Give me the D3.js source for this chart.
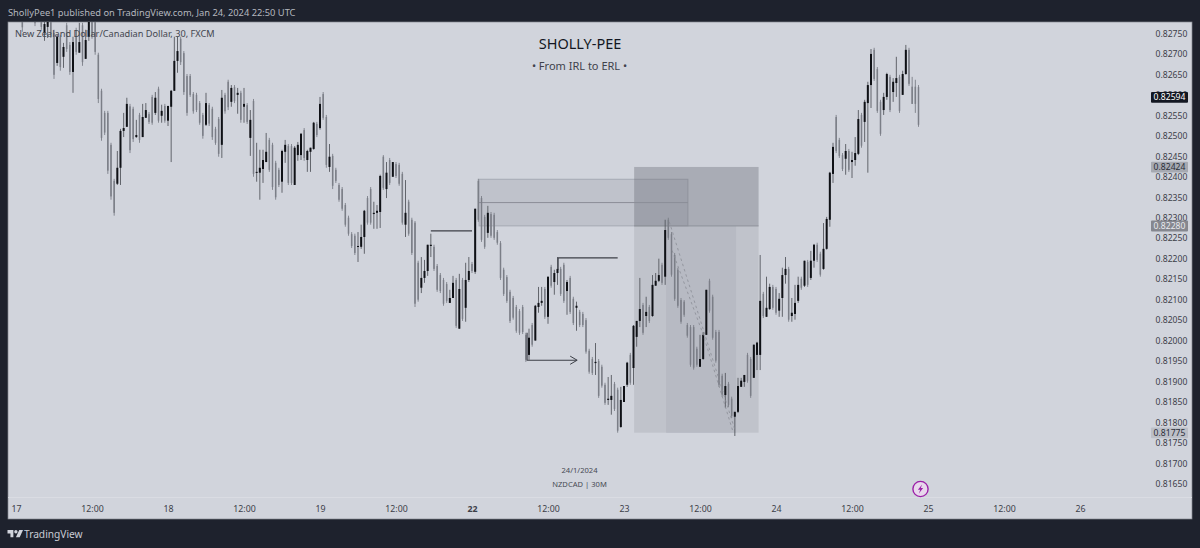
<!DOCTYPE html>
<html><head><meta charset="utf-8">
<script src="https://cdnjs.cloudflare.com/ajax/libs/d3/7.8.5/d3.min.js"></script>
<style>
html,body{margin:0;padding:0;background:#1e222d;overflow:hidden}
svg{display:block}
text{font-family:"Noto Sans",sans-serif}
</style></head><body><svg id="c" width="1200" height="548"></svg>
<script>
// Prices are in points (1 point = 0.00001). Bars run on the 30-minute grid, first bar index is firstBar.
const firstBar = 2;
const highs = [
82820,82820,82820,82820,82820,82820,82808,82803,82798,82808,
82759,82747,82747,82727,82776,82729,82742,82764,82776,82776,
82759,82795,82795,82795,82703,82615,82561,82561,82483,82395,
82463,82517,82556,82593,82578,82571,82539,82556,82578,82580,
82558,82600,82607,82620,82576,82578,82573,82612,82742,82742,
82742,82707,82651,82651,82607,82605,82585,82556,82605,82580,
82571,82522,82546,82612,82605,82637,82624,82624,82617,82610,
82617,82580,82563,82590,82483,82466,82466,82507,82495,82483,
82439,82422,82466,82490,82480,82480,82475,82485,82507,82519,
82466,82471,82534,82534,82595,82607,82551,82480,82456,82422,
82385,82375,82336,82305,82265,82261,82265,82283,82319,82353,
82375,82339,82331,82405,82453,82436,82446,82436,82436,82434,
82412,82392,82344,82300,82292,82195,82204,82197,82234,82261,
82234,82187,82165,82153,82143,82124,82158,82153,82163,82153,
82190,82204,82192,82322,82395,82353,82307,82329,82314,82312,
82270,82243,82178,82160,82124,82109,82087,82077,82087,82019,
82029,82043,82087,82131,82131,82131,82156,82185,82173,82204,
82180,82190,82148,82158,82107,82095,82075,82070,82055,81980,
81960,81994,81955,81941,81897,81911,81916,81899,81885,81887,
81889,81948,81970,82038,82048,82153,82092,82107,82087,82160,
82165,82200,82190,82295,82300,82265,82214,82178,82104,82099,
82043,82038,82038,81985,82014,82021,82124,82151,82112,82026,
82026,81919,81921,81899,81863,81826,81909,81909,81916,81970,
81960,81990,81997,82209,82119,82156,82139,82136,82131,82116,
82178,82204,82180,82104,82136,82156,82156,82195,82197,82219,
82236,82239,82217,82287,82302,82412,82483,82551,82495,82458,
82480,82468,82461,82497,82563,82556,82588,82632,82712,82715,
82668,82588,82605,82654,82649,82641,82693,82649,82659,82722,
82715,82644,82637,82624];
const lows = [
82754,82788,82788,82783,82768,82783,82759,82732,82739,82739,
82639,82671,82659,82666,82705,82649,82605,82698,82703,82671,
82688,82732,82737,82698,82580,82488,82502,82407,82344,82305,
82380,82380,82497,82522,82458,82485,82495,82483,82497,82544,
82529,82527,82551,82532,82532,82532,82524,82436,82610,82654,
82673,82600,82549,82595,82554,82558,82527,82493,82524,82524,
82490,82478,82449,82446,82554,82563,82571,82580,82554,82532,
82532,82529,82451,82400,82388,82344,82385,82436,82412,82368,
82344,82375,82361,82434,82380,82380,82380,82439,82441,82439,
82412,82412,82466,82497,82515,82539,82422,82412,82370,82385,
82339,82317,82278,82256,82226,82209,82192,82224,82212,82283,
82283,82273,82273,82275,82368,82348,82380,82400,82397,82378,
82283,82253,82256,82209,82082,82095,82116,82141,82158,82204,
82170,82119,82116,82085,82092,82092,82104,82031,82029,82048,
82046,82143,82165,82163,82290,82241,82224,82251,82251,82246,
82234,82148,82109,82092,82043,82051,82019,82014,82016,81948,
81953,81985,82000,82068,82085,82053,82041,82129,82112,82136,
82109,82092,82063,82065,82038,82024,82033,82033,81968,81919,
81916,81916,81860,81885,81843,81843,81819,81828,81775,81787,
81850,81887,81892,81892,81985,82033,82014,82033,82043,82058,
82134,82143,82136,82136,82246,82156,82097,82080,82041,82058,
82007,81936,81929,81936,81936,81953,82014,82068,82002,81946,
81887,81863,81836,81838,81811,81767,81823,81887,81887,81897,
81860,81909,81928,81928,82055,82058,82075,82075,82063,82058,
82058,82139,82046,82046,82051,82092,82124,82131,82131,82148,
82178,82192,82156,82173,82222,82278,82385,82458,82446,82414,
82405,82412,82397,82427,82453,82471,82485,82410,82568,82634,
82556,82500,82551,82588,82558,82583,82595,82556,82600,82649,
82622,82578,82556,82522];
const opens = [
82810,82814,82815,82812,82810,82812,82800,82751,82766,82795,
82751,82678,82742,82693,82770,82722,82656,82758,82703,82770,
82688,82742,82785,82785,82698,82610,82556,82556,82478,82390,
82383,82422,82512,82522,82572,82566,82497,82551,82497,82544,
82553,82595,82556,82615,82549,82573,82537,82571,82610,82683,
82737,82702,82646,82646,82602,82600,82580,82551,82527,82575,
82566,82517,82541,82478,82600,82632,82583,82619,82600,82605,
82571,82575,82495,82585,82410,82410,82419,82436,82490,82478,
82434,82417,82388,82461,82475,82475,82380,82453,82453,82514,
82441,82461,82468,82529,82519,82602,82546,82424,82451,82417,
82380,82370,82331,82300,82260,82256,82229,82229,82253,82348,
82370,82309,82312,82314,82449,82370,82441,82400,82431,82429,
82407,82283,82339,82295,82288,82190,82129,82153,82170,82231,
82229,82182,82160,82148,82138,82092,82104,82148,82029,82148,
82080,82148,82187,82168,82390,82348,82302,82263,82309,82307,
82265,82238,82173,82155,82119,82104,82082,82072,82082,82014,
81965,82038,82000,82082,82092,82126,82058,82180,82143,82165,
82175,82185,82121,82153,82102,82080,82070,82065,82050,81975,
81955,81945,81950,81936,81892,81855,81855,81894,81880,81789,
81850,81892,81965,81933,82009,82048,82087,82060,82082,82060,
82134,82146,82185,82156,82295,82260,82209,82173,82099,82095,
82038,82033,82033,81980,81936,81955,82014,82146,82107,82021,
82021,81914,81867,81894,81858,81814,81826,81887,81899,81965,
81955,81909,81965,81965,82114,82058,82077,82131,82126,82073,
82104,82160,82175,82060,82065,82097,82151,82134,82192,82153,
82195,82234,82212,82175,82224,82295,82407,82546,82490,82453,
82444,82463,82436,82441,82456,82551,82534,82580,82624,82710,
82663,82583,82563,82595,82644,82607,82629,82644,82600,82651,
82710,82620,82620,82619];
const closes = [
82765,82795,82793,82790,82775,82790,82766,82773,82778,82749,
82649,82742,82668,82717,82712,82656,82729,82705,82729,82680,
82734,82788,82745,82705,82590,82495,82508,82415,82352,82312,
82422,82512,82519,82578,82465,82492,82502,82490,82546,82563,
82534,82532,82593,82537,82561,82537,82573,82610,82683,82707,
82680,82607,82556,82600,82560,82563,82532,82500,82580,82530,
82497,82483,82456,82593,82560,82570,82617,82585,82605,82539,
82578,82534,82539,82407,82412,82422,82441,82461,82417,82375,
82350,82380,82463,82478,82385,82385,82471,82478,82505,82446,
82463,82471,82532,82502,82578,82544,82429,82449,82378,82390,
82344,82322,82283,82261,82231,82214,82231,82253,82317,82288,
82288,82312,82317,82402,82373,82410,82385,82436,82402,82383,
82288,82312,82261,82214,82090,82100,82153,82170,82234,82234,
82175,82124,82121,82090,82097,82104,82141,82036,82126,82053,
82148,82170,82170,82322,82295,82246,82229,82312,82256,82251,
82239,82153,82114,82097,82048,82056,82024,82019,82021,81953,
82007,81990,82085,82092,82097,82058,82156,82134,82165,82175,
82114,82097,82143,82070,82043,82085,82038,82038,81973,81924,
81921,81948,81865,81890,81848,81858,81865,81833,81780,81855,
81889,81946,81897,82036,82048,82077,82019,82070,82048,82136,
82146,82160,82141,82270,82251,82161,82102,82085,82046,82063,
82012,81941,81934,81941,81955,82014,82124,82073,82007,81951,
81892,81868,81889,81843,81816,81826,81889,81902,81916,81902,
81865,81990,81995,82097,82060,82080,82131,82080,82068,82102,
82160,82175,82051,82068,82092,82136,82129,82195,82136,82195,
82234,82197,82161,82224,82297,82410,82473,82463,82451,82419,
82463,82417,82441,82458,82541,82476,82583,82624,82700,82639,
82561,82505,82595,82651,82563,82632,82641,82561,82651,82710,
82627,82578,82578,82527];

const priceTicks = [81650,81700,81750,81800,81850,81900,81950,82000,82050,82100,82150,82200,82250,82300,82350,82400,82450,82500,82550,82600,82650,82700,82750];
const timeTickBars = [0,24,48,72,96,120,144,168,192,216,240,264,288,312,336];
const timeTickLabels = ["17","12:00","18","12:00","19","12:00","22","12:00","23","12:00","24","12:00","25","12:00","26"];
const boldTimeLabels = ["22"];
// price tags on the axis: value, fill, text colour
const tagValues = [82594,82424,82280,81775];
const tagFills = ["#131722","#a6a9b1","#85878f","#bcbfc7"];
const tagInks = ["#ffffff","#2a2e39","#e8e9ee","#2a2e39"];
// drawings, given as [barFrom, barTo, priceHigh, priceLow]
const zoneStop = [195.2,234.5,82424,82280];
const zoneRisk = [195.2,234.5,82280,81775];
const zoneRiskInner = [205.3,227.4,82280,81775];
const orderBlock = [146.2,212.2,82394,82280];
const orderBlockMid = 82337;
// polylines, as [bar, price] pairs
const ruleA = [[131,82268],[144,82268]];
const ruleB = [[171.2,82173],[171.2,82202],[190,82202]];
const ruleC = [[161.4,82019],[161.4,81952],[177.2,81952]];
const arrowHead = [[175,81962],[177.2,81952],[175,81942]];
const dashA = [[206.3,82290],[227.2,81778]];
const dashB = [[207.2,82220],[217,82015],[226.4,81778]];

const svg = d3.select("#c");
const frameL=8, frameR=1192, frameT=22, frameB=519, axisY=497.5;
const barStep = 152/48;
const x = d3.scaleLinear().domain([0,336]).range([16,16+336*barStep]);
const y = d3.scaleLinear().domain([81618,82778]).range([497,22]);

svg.append("rect").attr("x",frameL).attr("y",frameT).attr("width",frameR-frameL).attr("height",frameB-frameT)
  .attr("fill","#d1d4dc").attr("stroke","#83868f").attr("stroke-width",0.7);
svg.append("line").attr("x1",frameL).attr("x2",frameR).attr("y1",axisY).attr("y2",axisY).attr("stroke","#dadce3").attr("stroke-width",1);

const defs = svg.append("defs");
defs.append("clipPath").attr("id","plot").append("rect").attr("x",frameL).attr("y",frameT).attr("width",frameR-frameL).attr("height",axisY-frameT);
const plot = svg.append("g").attr("clip-path","url(#plot)");

// bands
function band(z,fill,stroke){
  plot.append("rect").attr("x",x(z[0])).attr("width",x(z[1])-x(z[0]))
    .attr("y",y(z[2])).attr("height",y(z[3])-y(z[2])).attr("fill",fill).attr("stroke",stroke||"none").attr("stroke-width",stroke?1:0);
}
band(zoneRisk,"#c0c3cb");
band(zoneRiskInner,"#b7bac3");
band(orderBlock,"rgba(120,123,134,0.2)","rgba(120,123,134,0.4)");
band(zoneStop,"rgba(110,113,122,0.4)");
plot.append("line").attr("x1",x(zoneStop[0])).attr("x2",x(zoneStop[1])).attr("y1",y(zoneStop[3])).attr("y2",y(zoneStop[3])).attr("stroke","#8f929b").attr("stroke-width",1);
plot.append("line").attr("x1",x(orderBlock[0])).attr("x2",x(orderBlock[1])).attr("y1",y(orderBlockMid)).attr("y2",y(orderBlockMid)).attr("stroke","#8b8e97").attr("stroke-width",1);

// candles
const bars = highs.map((h,i)=>({i:i+firstBar,h,l:lows[i],o:opens[i],c:closes[i]}));
const isUp = d => d.c>=d.o;
const g = plot.selectAll("g.bar").data(bars).join("g").attr("class","bar");
g.append("line").attr("x1",d=>x(d.i)).attr("x2",d=>x(d.i)).attr("y1",d=>y(d.h)).attr("y2",d=>y(d.l))
  .attr("stroke",d=>isUp(d)?"#55585f":"#7b7e87").attr("stroke-width",0.9);
g.append("rect").attr("x",d=>x(d.i)-(isUp(d)?1:0.75)).attr("width",d=>isUp(d)?2:1.5)
  .attr("y",d=>y(Math.max(d.o,d.c))).attr("height",d=>Math.max(1,Math.abs(y(d.o)-y(d.c))))
  .attr("fill",d=>isUp(d)?"#0f1116":"#7b7e87");

// drawings
const line = d3.line().x(d=>x(d[0])).y(d=>y(d[1]));
function stroke(pts,w,col,dash){
  const p = plot.append("path").attr("d",line(pts)).attr("fill","none").attr("stroke",col).attr("stroke-width",w);
  if(dash) p.attr("stroke-dasharray",dash);
}
stroke(ruleA,1.3,"#3c3f47");
stroke(ruleB,1.1,"#3c3f47");
stroke(ruleC,1.1,"#3c3f47");
stroke(arrowHead,1,"#3c3f47");
stroke(dashA,0.8,"#8a8d96","2.5 3");
stroke(dashB,0.8,"#8a8d96","2.5 3");

// axes
const yAxis = d3.axisRight(y).tickValues(priceTicks).tickSize(0).tickPadding(0).tickFormat(v=>(v/1e5).toFixed(5));
const ya = svg.append("g").attr("transform","translate(1155.5,0)").call(yAxis);
ya.select(".domain").remove();
ya.selectAll("text").attr("font-size",8.6).attr("fill","#3d4049").style("font-family",'"Noto Sans",sans-serif');

const xAxis = d3.axisBottom(x).tickValues(timeTickBars).tickSize(0).tickPadding(0).tickFormat((v,i)=>timeTickLabels[i]);
const xa = svg.append("g").attr("transform","translate(0,505.5)").call(xAxis);
xa.select(".domain").remove();
xa.selectAll("text").attr("font-size",8.8).attr("fill","#3d4049").style("font-family",'"Noto Sans",sans-serif')
  .attr("font-weight",function(){return boldTimeLabels.includes(this.textContent)?"700":"400";});

// price tags
tagValues.forEach((v,i)=>{
  svg.append("rect").attr("x",1151).attr("width",37).attr("y",y(v)-5.3).attr("height",10.8).attr("rx",1).attr("fill",tagFills[i]);
  svg.append("text").attr("x",1169.5).attr("y",y(v)+3.1).attr("text-anchor","middle").attr("font-size",8.6).attr("fill",tagInks[i]).text((v/1e5).toFixed(5));
});

// texts
svg.append("text").attr("x",8).attr("y",15.5).attr("font-size",9.3).attr("fill","#b4b7bf").text("ShollyPee1 published on TradingView.com, Jan 24, 2024 22:50 UTC");
svg.append("text").attr("x",15).attr("y",37).attr("font-size",9.2).attr("fill","#43464f").text("New Zealand Dollar/Canadian Dollar, 30, FXCM");
svg.append("text").attr("x",580).attr("y",48.5).attr("text-anchor","middle").attr("font-size",14.5).attr("fill","#131722").text("SHOLLY-PEE");
svg.append("text").attr("x",579.5).attr("y",70).attr("text-anchor","middle").attr("font-size",11).attr("fill","#3f424b").text("• From IRL to ERL •");
svg.append("text").attr("x",579.5).attr("y",473).attr("text-anchor","middle").attr("font-size",7.6).attr("fill","#484b54").text("24/1/2024");
svg.append("text").attr("x",579.5).attr("y",487).attr("text-anchor","middle").attr("font-size",7.6).attr("fill","#484b54").text("NZDCAD | 30M");

// lightning badge
const badge = svg.append("g").attr("transform","translate(920.5,489)");
badge.append("circle").attr("r",7.6).attr("fill","#e8d7ec").attr("stroke","#9c1fa8").attr("stroke-width",1.4);
badge.append("path").attr("d","M1.6 -4.6 L-2.6 0.8 L-0.3 0.8 L-1.6 4.6 L2.6 -0.9 L0.3 -0.9 Z").attr("fill","#9c1fa8");

// TradingView logo
const logo = svg.append("g").attr("transform","translate(7.5,527.5) scale(0.42)").attr("fill","#d1d4dc");
logo.append("path").attr("d","M14 6H0v8h7v9h7V6Z");
logo.append("circle").attr("cx",20).attr("cy",10).attr("r",4);
logo.append("path").attr("d","M28 6h9l-8 17h-9l8-17Z");
svg.append("text").attr("x",24).attr("y",538).attr("font-size",10.2).attr("fill","#c9ccd4").text("TradingView");
</script></body></html>
